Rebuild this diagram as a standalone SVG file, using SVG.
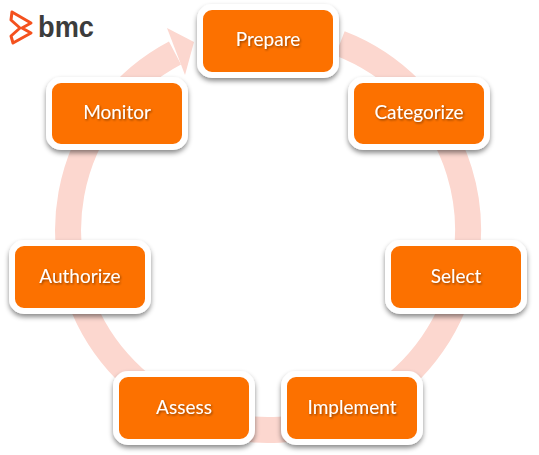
<svg xmlns="http://www.w3.org/2000/svg" width="539" height="455" viewBox="0 0 539 455">
<style>
.box{fill:#fc7103;stroke:#fff;stroke-width:6;filter:url(#sh)}
.lbl{font-family:Lato,"Open Sans",sans-serif;font-size:19px;fill:#fff;text-anchor:middle;filter:url(#ts)}
.ring{fill:none;stroke:#fcd7cf;stroke-width:26}
</style>
<defs>
<filter id="sh" x="-15%" y="-20%" width="130%" height="150%"><feDropShadow dx="0" dy="3" stdDeviation="2.500" flood-color="#000" flood-opacity=".45"/></filter>
<filter id="ts" x="-10%" y="-20%" width="120%" height="150%"><feDropShadow dx="1" dy="1.200" stdDeviation=".8" flood-color="#000" flood-opacity=".45"/></filter>
</defs>
<rect width="539" height="455" fill="#fff"/>
<g id="logo">
<path d="M12 12 L31 23 L22 28 L31 33 L13 43 L11 36 L20 28 L11 20 Z" fill="none" stroke="#f4511e" stroke-width="3" stroke-linejoin="round"/>
<text x="38" y="37" font-family="Liberation Sans,sans-serif" font-weight="700" font-size="29" fill="#3c3c3c" textLength="56" lengthAdjust="spacingAndGlyphs">bmc</text>
</g>
<g id="connectors">
<path class="ring" d="M 175 53 A 200 200 0 1 0 340 43.400"/>
<path d="M167 28 L194 42 L185 75 Z" fill="#fcd7cf"/>
</g>
<g id="prepare"><rect class="box" x="200" y="7" width="136" height="68" rx="12"/><text class="lbl" x="268" y="46">Prepare</text></g>
<g id="categorize"><rect class="box" x="351" y="80" width="136" height="67" rx="12"/><text class="lbl" x="419" y="119">Categorize</text></g>
<g id="select"><rect class="box" x="388" y="243" width="136" height="68" rx="12"/><text class="lbl" x="456" y="283">Select</text></g>
<g id="implement"><rect class="box" x="284" y="374" width="136" height="68" rx="12"/><text class="lbl" x="352" y="414">Implement</text></g>
<g id="assess"><rect class="box" x="116" y="374" width="136" height="68" rx="12"/><text class="lbl" x="184" y="414">Assess</text></g>
<g id="authorize"><rect class="box" x="12" y="243" width="136" height="68" rx="12"/><text class="lbl" x="80" y="283">Authorize</text></g>
<g id="monitor"><rect class="box" x="49" y="80" width="136" height="67" rx="12"/><text class="lbl" x="117" y="119">Monitor</text></g>
</svg>
